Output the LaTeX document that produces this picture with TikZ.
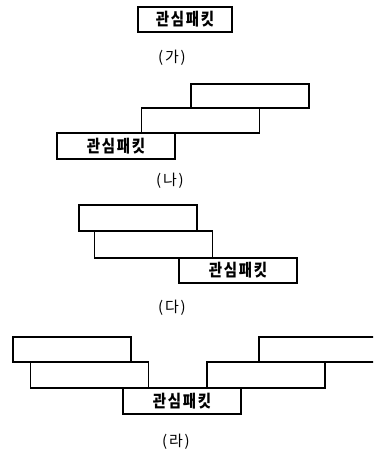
\documentclass[tikz,border=0pt]{standalone}
\usepackage{fontspec}
\newfontfamily\kr{Noto Sans CJK KR}[LetterSpace=10,FakeStretch=0.85]
\newfontfamily\krl{Noto Sans CJK KR}[LetterSpace=12]
\begin{document}
\begin{tikzpicture}[x=1pt,y=-1pt,
  pkt/.style={draw=black,line width=1.3pt,rectangle,inner sep=0pt,minimum width=118pt,minimum height=25pt,font=\kr\bfseries\fontsize{17}{17}\selectfont},
  figlabel/.style={font=\krl\fontsize{15}{15}\selectfont}]
\useasboundingbox (0,0) rectangle (373,453);
% (가)
\node[pkt,minimum width=94pt] (a1) at (185,19.5) {관심패킷};
\node[figlabel] (la) at (172,58) {(가)};
% (나)
\node[pkt,minimum height=24pt] (b3) at (250,96) {};
\node[pkt] (b2) at (200.5,120.5) {};
\node[pkt,minimum height=26pt] (b1) at (116,146) {관심패킷};
\node[figlabel] (lb) at (170,181) {(나)};
% (다)
\node[pkt,minimum height=26pt] (c3) at (138,218) {};
\node[pkt,minimum height=27pt] (c2) at (153.5,244.5) {};
\node[pkt] (c1) at (238,270.5) {관심패킷};
\node[figlabel] (lc) at (172,308) {(다)};
% (라)
\node[pkt] (d3) at (72,349.5) {};
\node[pkt,minimum height=26pt] (d2) at (89.5,375) {};
\node[pkt,minimum height=26pt] (d1) at (182,401) {관심패킷};
\node[pkt,minimum height=26pt] (d4) at (266,375) {};
\begin{scope}
\clip (0,0) rectangle (373,453);
\node[pkt] (d5) at (318,349.5) {};
\end{scope}
\node[figlabel] (ld) at (176,442) {(라)};
\end{tikzpicture}
\end{document}
